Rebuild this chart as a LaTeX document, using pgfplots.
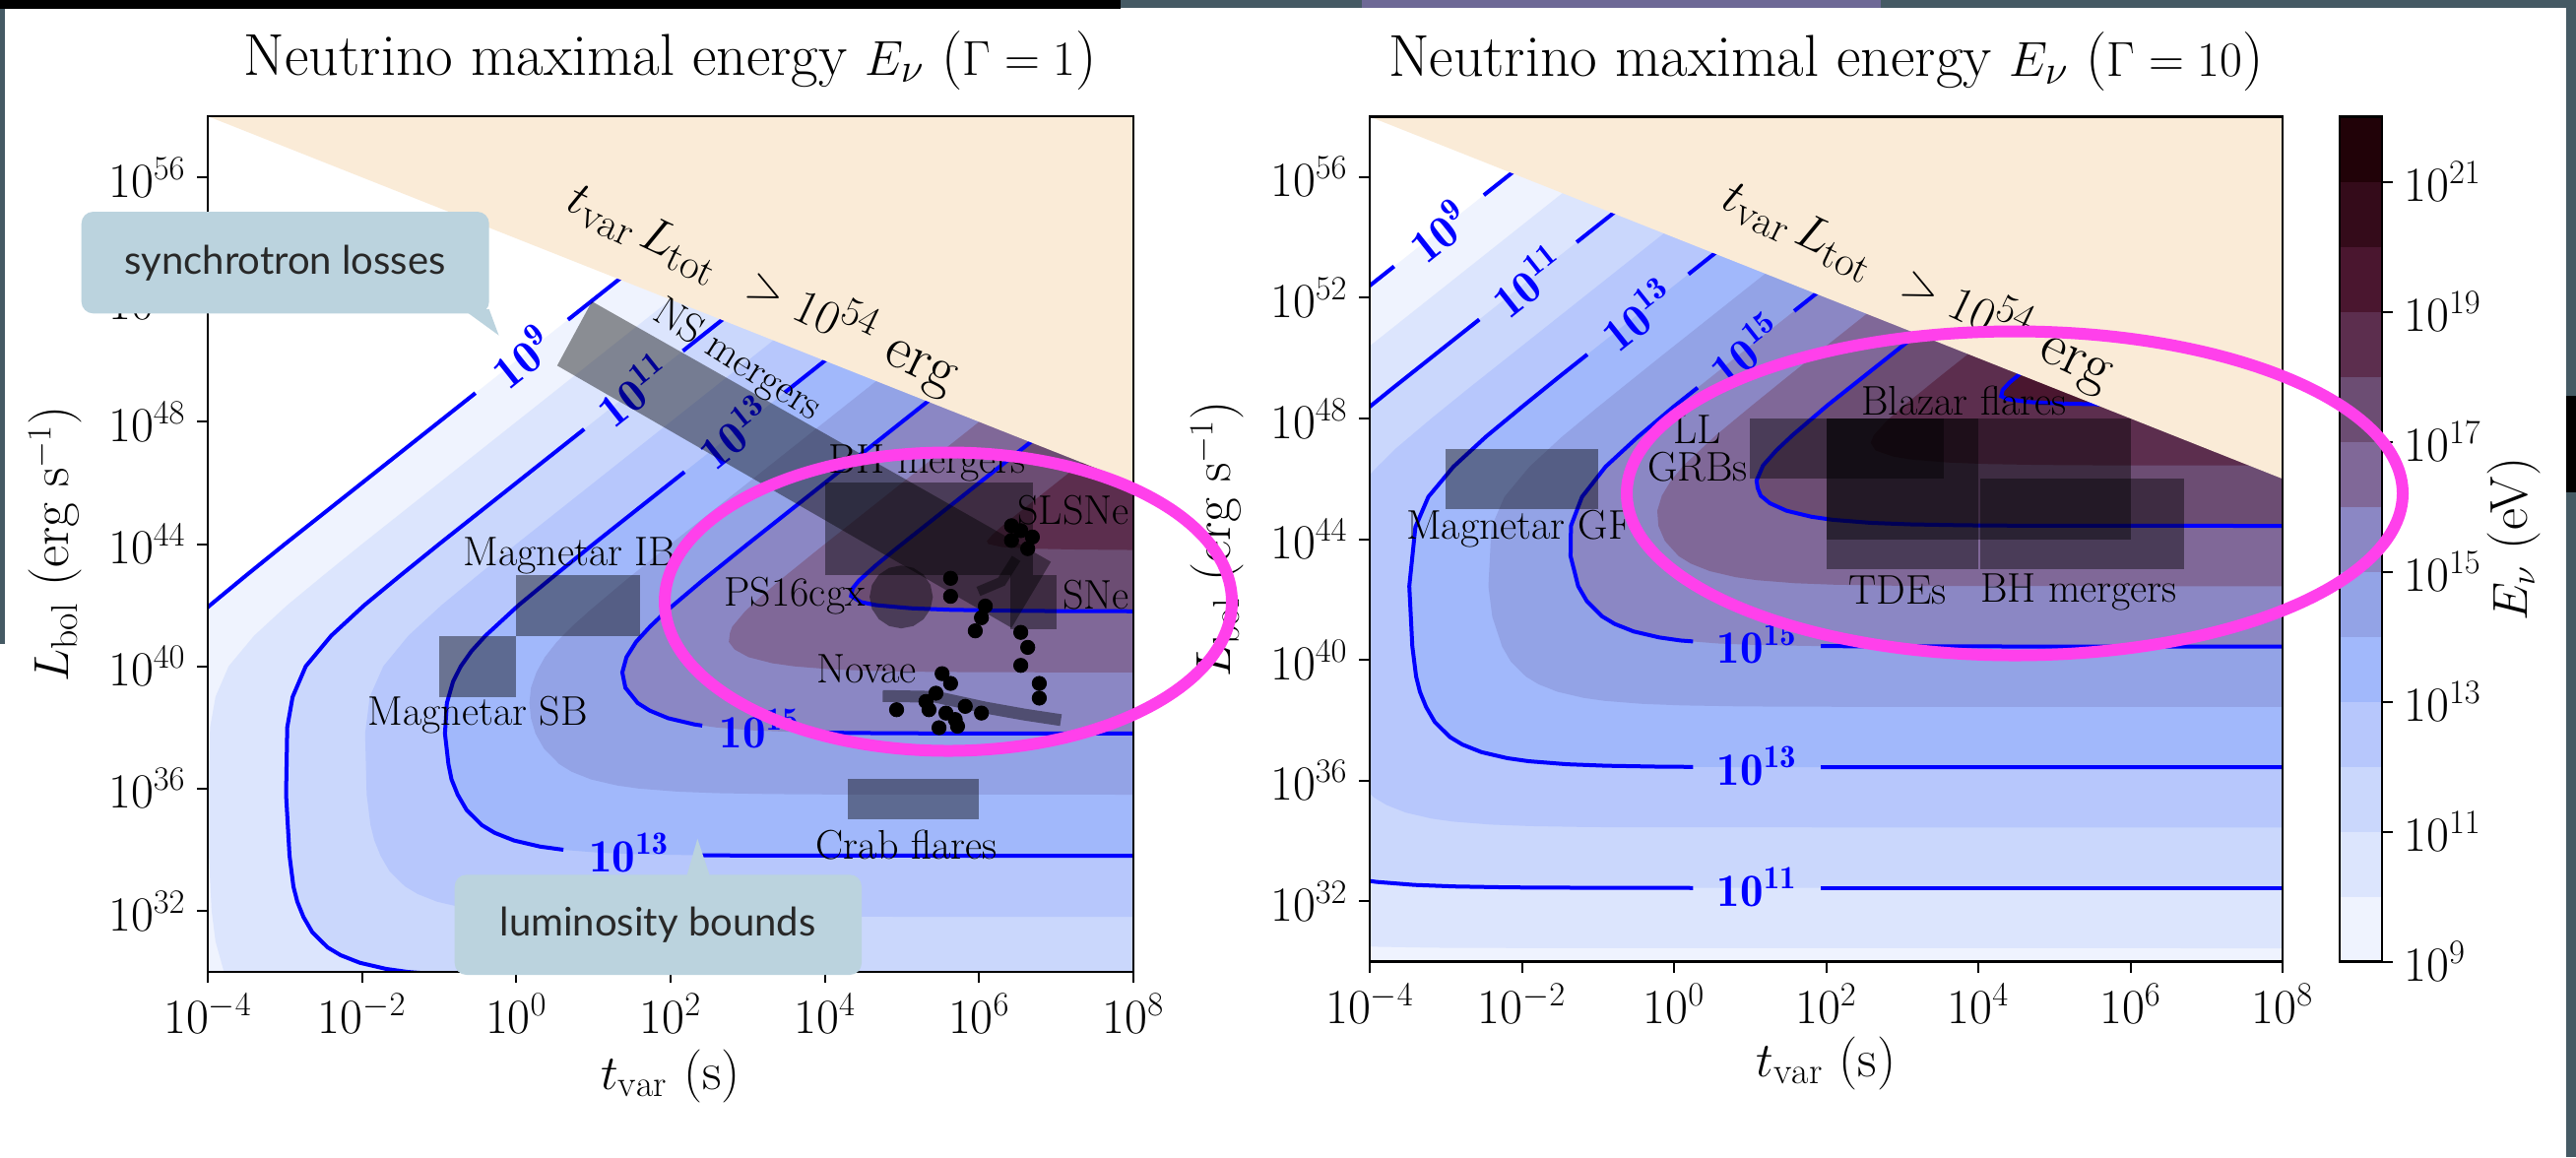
\documentclass[border=0pt]{standalone}
\usepackage{fontspec}
\usepackage{pgfplots}
\pgfplotsset{compat=1.18}
\newfontfamily\callfont{Lato}
\definecolor{c9}{RGB}{239,243,254}
\definecolor{c10}{RGB}{220,229,253}
\definecolor{c11}{RGB}{202,215,252}
\definecolor{c12}{RGB}{183,199,252}
\definecolor{c13}{RGB}{161,184,251}
\definecolor{c14}{RGB}{147,163,230}
\definecolor{c15}{RGB}{139,135,196}
\definecolor{c16}{RGB}{128,104,152}
\definecolor{c17}{RGB}{108,77,115}
\definecolor{c18}{RGB}{92,46,78}
\definecolor{c19}{RGB}{74,22,47}
\definecolor{c20}{RGB}{52,11,26}
\definecolor{c21}{RGB}{33,2,8}
\definecolor{beigecol}{RGB}{250,235,215}
\definecolor{mag}{RGB}{255,64,235}
\definecolor{callbg}{RGB}{187,211,222}
\definecolor{slatecol}{RGB}{69,90,100}
\definecolor{nebula}{RGB}{110,105,150}
\definecolor{cblue}{RGB}{0,0,255}
\definecolor{tgray}{RGB}{40,40,40}
\pgfplotsset{
  mypanel/.style={scale only axis, xmin=-4, xmax=8, ymin=30, ymax=58, axis on top,
    tick align=outside, tick pos=left, major tick length=5.5pt,
    tick style={black, line width=1pt}, axis line style={line width=1.25pt},
    xtick={-4,-2,0,2,4,6,8},
    xticklabels={$10^{-4}$,$10^{-2}$,$10^{0}$,$10^{2}$,$10^{4}$,$10^{6}$,$10^{8}$},
    ytick={32,36,40,44,48,52,56},
    yticklabels={$10^{32}$,$10^{36}$,$10^{40}$,$10^{44}$,$10^{48}$,$10^{52}$,$10^{56}$},
    ticklabel style={font=\fontsize{24.75}{29}\selectfont, inner sep=5.5pt},
    label style={font=\fontsize{27}{32}\selectfont},
    title style={font=\fontsize{30}{36}\selectfont}},
  mybnd/.style={draw=none, mark=none, forget plot},
  mycl/.style={draw=cblue, line width=2pt, mark=none, forget plot},
  mybox/.style={draw=none, fill=black, fill opacity=0.42, mark=none, forget plot},
}
\tikzset{myclab/.style={text=cblue, font=\fontsize{23.5}{28}\selectfont\bfseries, inner sep=0pt},
  mysrc/.style={font=\fontsize{21}{25}\selectfont, inner sep=0pt},
  mybeige/.style={font=\fontsize{30.5}{36}\selectfont, rotate=-25.5}}
\begin{document}
\begin{tikzpicture}
\useasboundingbox (0,0) rectangle (1308pt,-587.5pt);
\begin{scope}[x=0.5pt,y=-0.5pt]
\fill[white] (0,0) rectangle (2616,1175);
\fill[black] (0,0) rectangle (1138,9);
\fill[slatecol] (1138,0) rectangle (2616,8);
\fill[nebula] (1383,0) rectangle (1910,8);
\fill[slatecol] (0,9) rectangle (5,654);
\fill[slatecol] (2606,8) rectangle (2616,1175);
\fill[black] (2606,402) rectangle (2616,500);
\end{scope}

% ================= LEFT PANEL (Gamma = 1) =================
\begin{axis}[mypanel, at={(105.5pt,-493.5pt)}, anchor=south west, width=470pt, height=434.5pt,
  title={Neutrino maximal energy $E_\nu$ ($\Gamma=1$)},
  title style={at={(0.5,1.0345)}, anchor=base, yshift=0pt},
  xlabel={$t_{\mathrm{var}}$ (s)}, xlabel style={at={(0.5,-0.122)}, anchor=center},
  ylabel={$L_{\mathrm{bol}}$ (erg s$^{-1}$)}, ylabel style={at={(-0.1649,0.5)}, anchor=center}]
\addplot[mybnd, fill=c9] coordinates {(8.2,29) (-4.8,29) (-4.73,40) (-4.40,41) (-3.97,42) (-3.49,43) (-3,44) (-2,46) (-1,48) (0,50) (1,52) (2,54) (8.2,58.5)};
\addplot[mybnd, fill=c10] coordinates {(8.2,29) (-3.525,29) (-3.79,30) (-3.90,31) (-3.95,32) (-3.99,34) (-3.99,36) (-3.97,38) (-3.90,39) (-3.73,40) (-3.40,41) (-2.97,42) (-2.49,43) (-2,44) (-1,46) (0,48) (1,50) (2,52) (2.5,53) (8.2,58.5)};
\addplot[mybnd, fill=c11] coordinates {(8.2,29.8) (-0.39,29.85) (-0.91,29.9) (-1.41,30) (-1.69,30.1) (-2.03,30.3) (-2.28,30.55) (-2.445,30.8) (-2.645,31.3) (-2.76,31.8) (-2.84,32.3) (-2.89,32.8) (-2.94,33.8) (-2.985,35.8) (-2.97,38) (-2.90,39) (-2.73,40) (-2.40,41) (-1.97,42) (-1.49,43) (-1,44) (0,46) (1,48) (2,50) (3,52) (8.2,58.5)};
\addplot[mybnd, fill=c12] coordinates {(8.2,31.8) (1.82,31.81) (1.30,31.82) (0.61,31.85) (0.09,31.9) (-0.41,32) (-0.69,32.1) (-1.03,32.3) (-1.28,32.55) (-1.445,32.8) (-1.645,33.3) (-1.76,33.8) (-1.84,34.3) (-1.89,34.8) (-1.94,35.8) (-1.96,37.8) (-1.90,39) (-1.725,40) (-1.40,41) (-0.97,42) (-0.49,43) (0,44) (1,46) (2,48) (3,50) (3.5,51) (8.2,58.5)};
\addplot[mybnd, fill=c13] coordinates {(8.2,33.8) (3.35,33.805) (2.82,33.81) (2.30,33.82) (1.61,33.85) (1.09,33.9) (0.59,34) (0.31,34.1) (-0.03,34.3) (-0.28,34.55) (-0.445,34.8) (-0.645,35.3) (-0.76,35.8) (-0.84,36.3) (-0.88,36.8) (-0.925,37.8) (-0.90,38.8) (-0.82,39.5) (-0.72,40) (-0.58,40.5) (-0.40,41) (0.03,42) (0.51,43) (1,44) (2,46) (3,48) (4,50) (4.5,51) (8.2,58.5)};
\addplot[mybnd, fill=c14] coordinates {(8.2,35.8) (4.35,35.805) (3.82,35.81) (3.30,35.82) (2.61,35.85) (2.09,35.9) (1.59,36) (1.307,36.1) (0.967,36.3) (0.717,36.55) (0.557,36.8) (0.36,37.3) (0.248,37.8) (0.19,38.3) (0.17,38.8) (0.19,39.3) (0.26,39.8) (0.37,40.3) (0.525,40.8) (0.72,41.3) (0.94,41.8) (1.41,42.8) (2,44) (3,46) (4,48) (5,50) (8.2,58.5)};
\addplot[mybnd, fill=c15] coordinates {(8.2,37.8) (5.35,37.805) (4.82,37.81) (4.30,37.82) (3.61,37.85) (3.09,37.9) (2.59,38) (2.307,38.1) (1.97,38.3) (1.73,38.55) (1.573,38.8) (1.414,39.3) (1.374,39.8) (1.428,40.3) (1.553,40.8) (1.734,41.3) (1.942,41.8) (2.41,42.8) (3,44) (4,46) (5,48) (5.5,49) (8.2,58.5)};
\addplot[mybnd, fill=c16] coordinates {(8.2,39.8) (6.35,39.805) (5.82,39.81) (5.30,39.82) (4.61,39.85) (4.09,39.9) (3.60,40) (3.32,40.1) (3.01,40.3) (2.83,40.55) (2.755,40.8) (2.77,41.1) (2.80,41.3) (2.966,41.8) (3.18,42.3) (3.41,42.8) (3.90,43.8) (4.5,45) (5,46) (6,48) (6.5,49) (8.2,58.5)};
\addplot[mybnd, fill=c17] coordinates {(8.2,41.8) (7.35,41.805) (6.82,41.81) (6.30,41.82) (5.615,41.85) (5.11,41.9) (4.67,42) (4.47,42.1) (4.34,42.3) (4.36,42.55) (4.44,42.8) (4.66,43.3) (4.90,43.8) (5.5,45) (6,46) (6.5,47) (7,48) (8.2,58.5)};
\addplot[mybnd, fill=c18] coordinates {(8.2,43.8) (7.82,43.81) (7.31,43.82) (6.67,43.85) (6.30,43.9) (6.12,44) (6.10,44.1) (6.17,44.3) (6.28,44.55) (6.5,45) (7,46) (7.5,47) (8.2,58.5)};
% contour lines (split at the labels)
\addplot[mycl] coordinates {(-4.73,40) (-4.40,41) (-3.97,42) (-3.49,43) (-3,44) (-2,46) (-1,48) (-0.53,48.94)};
\addplot[mycl] coordinates {(0.67,51.34) (1,52) (2,54)};
\addplot[mycl] coordinates {(-0.39,29.85) (-0.91,29.9) (-1.41,30) (-1.69,30.1) (-2.03,30.3) (-2.28,30.55) (-2.445,30.8) (-2.645,31.3) (-2.76,31.8) (-2.84,32.3) (-2.89,32.8) (-2.94,33.8) (-2.985,35.8) (-2.97,38) (-2.90,39) (-2.73,40) (-2.40,41) (-1.97,42) (-1.49,43) (-1,44) (0,46) (0.88,47.76)};
\addplot[mycl] coordinates {(2.16,50.32) (3,52)};
\addplot[mycl] coordinates {(8.2,33.8) (3.35,33.805) (2.82,33.81) (2.31,33.82)};
\addplot[mycl] coordinates {(0.61,33.997) (0.31,34.1) (-0.03,34.3) (-0.28,34.55) (-0.445,34.8) (-0.645,35.3) (-0.76,35.8) (-0.84,36.3) (-0.88,36.8) (-0.925,37.8) (-0.90,38.8) (-0.82,39.5) (-0.72,40) (-0.58,40.5) (-0.40,41) (0.03,42) (0.51,43) (1,44) (2,46) (2.18,46.36)};
\addplot[mycl] coordinates {(3.48,48.96) (4,50) (4.5,51)};
\addplot[mycl] coordinates {(8.2,37.8) (5.35,37.805) (4.82,37.81) (4.30,37.82) (3.89,37.838)};
\addplot[mycl] coordinates {(2.41,38.06) (2.307,38.1) (1.97,38.3) (1.73,38.55) (1.573,38.8) (1.414,39.3) (1.374,39.8) (1.428,40.3) (1.553,40.8) (1.734,41.3) (1.942,41.8) (2.41,42.8) (3,44) (4,46) (5,48) (5.5,49)};
\addplot[mycl] coordinates {(8.2,41.8) (7.35,41.805) (6.82,41.81) (6.30,41.82) (5.615,41.85) (5.11,41.9) (4.67,42) (4.47,42.1) (4.34,42.3) (4.36,42.55) (4.44,42.8) (4.66,43.3) (4.90,43.8) (5.5,45) (6,46) (6.5,47) (7,48)};
\node[myclab, rotate=38.4] at (axis cs:0.07,50.14) {$\mathbf{10^{9}}$};
\node[myclab, rotate=38.4] at (axis cs:1.52,49.04) {$\mathbf{10^{11}}$};
\node[myclab, rotate=38.4] at (axis cs:2.83,47.66) {$\mathbf{10^{13}}$};
\node[myclab] at (axis cs:1.46,33.9) {$\mathbf{10^{13}}$};
\node[myclab] at (axis cs:3.15,37.95) {$\mathbf{10^{15}}$};
% forbidden region
\addplot[mybnd, fill=beigecol] coordinates {(-4.5,58.5) (8.5,45.5) (8.5,58.5)};
\node[mybeige] at (axis cs:3.2,52.42) {$t_{\mathrm{var}}\,L_{\mathrm{tot}}\;\,>10^{54}$ erg};
% sources
\addplot[mybox] coordinates {(0.98,51.94) (6.93,43.42) (6.42,41.26) (0.53,49.84)};
\addplot[mybox] coordinates {(0,41) (1.6,41) (1.6,43) (0,43)};
\addplot[mybox] coordinates {(-1,39) (0,39) (0,41) (-1,41)};
\addplot[mybox] coordinates {(4.3,35) (6.0,35) (6.0,36.3) (4.3,36.3)};
\addplot[mybox] coordinates {(4,43) (6.7,43) (6.7,46) (4,46)};
\addplot[mybox] coordinates {(6.4,41.2) (7,41.2) (7,43) (6.4,43)};
\addplot[mybox] coordinates {(5.40,42.27) (5.369,42.664) (5.28,42.998) (5.147,43.222) (4.99,43.30) (4.833,43.222) (4.70,42.998) (4.611,42.664) (4.58,42.27) (4.611,41.876) (4.70,41.542) (4.833,41.318) (4.99,41.24) (5.147,41.318) (5.28,41.542) (5.369,41.876)};
\addplot[draw=black, draw opacity=0.42, line width=6pt, mark=none, forget plot] coordinates {(4.75,39.03) (5.44,39.0) (6.08,38.65) (6.59,38.42) (7.06,38.24)};
\addplot[draw=black, draw opacity=0.42, line width=5pt, mark=none, forget plot] coordinates {(6.48,43.53) (6.29,42.77) (5.99,42.45)};
\addplot[only marks, mark=*, mark size=3.6pt, black, forget plot] coordinates {(6.42,44.6) (6.54,44.44) (6.69,44.23) (6.42,44.12) (6.63,43.85) (5.63,42.88) (5.63,42.29) (6.08,41.97) (6.03,41.59) (5.95,41.16) (6.54,41.11) (6.63,40.62) (6.54,40.03) (6.78,39.44) (6.78,38.96) (5.52,39.76) (5.63,39.44) (5.44,39.12) (5.31,38.85) (5.35,38.58) (4.93,38.58) (5.57,38.47) (5.69,38.26) (5.82,38.69) (6.03,38.47) (5.48,37.99) (5.72,38.04)};
\node[mysrc, rotate=-32.5] at (axis cs:2.86,49.97) {NS mergers};
\node[mysrc] at (axis cs:5.33,46.65) {BH mergers};
\node[mysrc, anchor=east] at (axis cs:7.95,45.1) {SLSNe};
\node[mysrc, anchor=east] at (axis cs:7.95,42.35) {SNe};
\node[mysrc] at (axis cs:3.61,42.3) {PS16cgx};
\node[mysrc] at (axis cs:4.54,39.9) {Novae};
\node[mysrc] at (axis cs:0.69,43.6) {Magnetar IB};
\node[mysrc] at (axis cs:-0.5,38.4) {Magnetar SB};
\node[mysrc] at (axis cs:5.06,34.16) {Crab flares};
\end{axis}

% ================= RIGHT PANEL (Gamma = 10) =================
\begin{axis}[mypanel, at={(695.5pt,-488.25pt)}, anchor=south west, width=463.5pt, height=429pt,
  title={Neutrino maximal energy $E_\nu$ ($\Gamma=10$)},
  title style={at={(0.5,1.0333)}, anchor=base, yshift=0pt},
  xlabel={$t_{\mathrm{var}}$ (s)}, xlabel style={at={(0.5,-0.1206)}, anchor=center},
  ylabel={$L_{\mathrm{bol}}$ (erg s$^{-1}$)}, ylabel style={at={(-0.1672,0.5)}, anchor=center}]
\addplot[mybnd, fill=c9] coordinates {(8.2,29) (-4.5,29) (-4.5,51.4) (-3.7,53) (-3.2,54) (-2.7,55) (-2.2,56) (-1.7,57) (8.2,58.5)};
\addplot[mybnd, fill=c10] coordinates {(8.2,30.44) (-2.68,30.45) (-3.2,30.46) (-3.89,30.49) (-4.41,30.54) (-4.5,30.6) (-4.5,49.6) (-4.2,50) (-3.7,51) (-3.2,52) (-2.7,53) (-2.2,54) (-1.7,55) (-1.2,56) (8.2,58.5)};
\addplot[mybnd, fill=c11] coordinates {(8.2,32.44) (-1.68,32.45) (-2.2,32.46) (-2.89,32.49) (-3.41,32.54) (-3.91,32.64) (-4.19,32.74) (-4.5,32.9) (-4.5,47.4) (-4.19,48) (-3.70,49) (-3.2,50) (-2.7,51) (-2.2,52) (-1.7,53) (-1.2,54) (-0.7,55) (-0.2,56) (8.2,58.5)};
\addplot[mybnd, fill=c12] coordinates {(8.2,34.44) (-0.68,34.45) (-1.2,34.46) (-1.89,34.49) (-2.41,34.54) (-2.91,34.64) (-3.19,34.74) (-3.53,34.94) (-3.78,35.19) (-3.945,35.44) (-4.01,35.6) (-4.5,36.5) (-4.5,45.5) (-4.05,46) (-3.90,46.4) (-3.66,47) (-3.19,48) (-2.70,49) (-2.2,50) (-1.7,51) (-1.2,52) (-0.7,53) (-0.2,54) (0.3,55) (8.2,58.5)};
\addplot[mybnd, fill=c13] coordinates {(8.2,36.44) (0.85,36.445) (0.32,36.45) (-0.2,36.46) (-0.89,36.49) (-1.41,36.54) (-1.91,36.64) (-2.19,36.74) (-2.53,36.94) (-2.78,37.19) (-2.945,37.44) (-3.145,37.94) (-3.26,38.44) (-3.34,38.94) (-3.39,39.44) (-3.44,40.44) (-3.48,42.44) (-3.40,44.4) (-3.23,45.4) (-2.90,46.4) (-2.47,47.4) (-1.99,48.4) (-1.5,49.4) (-1.0,50.4) (-0.5,51.4) (0,52.4) (0.5,53.4) (1.0,54.4) (8.2,58.5)};
\addplot[mybnd, fill=c14] coordinates {(8.2,38.44) (1.85,38.445) (1.32,38.45) (0.80,38.46) (0.11,38.49) (-0.41,38.54) (-0.91,38.64) (-1.19,38.74) (-1.53,38.94) (-1.78,39.19) (-1.945,39.44) (-2.145,39.94) (-2.26,40.44) (-2.39,41.44) (-2.44,42.44) (-2.40,44.4) (-2.23,45.4) (-1.90,46.4) (-1.47,47.4) (-0.99,48.4) (-0.2,50) (0.3,51) (0.8,52) (1.3,53) (1.8,54) (8.2,58.5)};
\addplot[mybnd, fill=c15] coordinates {(8.2,40.44) (2.85,40.445) (2.32,40.45) (1.80,40.46) (1.11,40.49) (0.59,40.54) (0.09,40.64) (-0.19,40.74) (-0.53,40.94) (-0.78,41.19) (-0.945,41.44) (-1.145,41.94) (-1.26,42.44) (-1.36,43.44) (-1.355,44.44) (-1.21,45.4) (-0.90,46.4) (-0.47,47.4) (0,48.4) (0.5,49.4) (1.0,50.4) (1.5,51.4) (2.0,52.4) (8.2,58.5)};
\addplot[mybnd, fill=c16] coordinates {(8.2,42.44) (3.85,42.445) (3.32,42.45) (2.80,42.46) (2.11,42.49) (1.59,42.54) (1.09,42.64) (0.81,42.74) (0.47,42.94) (0.22,43.19) (0.06,43.44) (-0.12,43.94) (-0.205,44.44) (-0.22,44.94) (-0.16,45.44) (-0.04,45.94) (0.125,46.44) (0.55,47.44) (1.03,48.44) (1.5,49.4) (2.0,50.4) (2.5,51.4) (3.0,52.4) (8.2,58.5)};
\addplot[mybnd, fill=c17] coordinates {(8.2,44.44) (4.85,44.445) (4.32,44.45) (3.80,44.46) (3.11,44.49) (2.59,44.54) (2.09,44.64) (1.81,44.74) (1.48,44.94) (1.26,45.19) (1.14,45.44) (1.10,45.69) (1.085,45.94) (1.17,46.44) (1.345,46.94) (1.556,47.44) (2.02,48.44) (2.5,49.4) (3.0,50.4) (3.5,51.4) (8.2,58.5)};
\addplot[mybnd, fill=c18] coordinates {(8.2,46.44) (5.85,46.445) (5.32,46.45) (4.80,46.46) (4.11,46.49) (3.60,46.54) (3.12,46.64) (2.88,46.74) (2.65,46.94) (2.585,47.19) (2.625,47.44) (2.805,47.94) (3.03,48.44) (3.5,49.4) (4.0,50.4) (8.2,58.5)};
\addplot[mybnd, fill=c19] coordinates {(8.2,48.44) (6.85,48.445) (6.32,48.45) (5.80,48.46) (5.134,48.49) (4.68,48.54) (4.38,48.64) (4.30,48.74) (4.32,48.94) (4.41,49.19) (4.53,49.44) (4.65,49.7) (8.2,58.5)};
% contour lines (split at the labels)
\addplot[mycl] coordinates {(-4.5,51.4) (-3.68,53.04)};
\addplot[mycl] coordinates {(-2.5,55.4) (-2.16,56.08) (-1.7,57)};
\addplot[mycl] coordinates {(8.2,32.44) (1.93,32.44)};
\addplot[mycl] coordinates {(0.25,32.44) (-1.68,32.45) (-2.2,32.46) (-2.89,32.49) (-3.41,32.54) (-3.91,32.64) (-4.19,32.74)};
\addplot[mycl] coordinates {(-4.19,48) (-3.70,49) (-2.56,51.28)};
\addplot[mycl] coordinates {(-1.28,53.84) (-0.7,55)};
\addplot[mycl] coordinates {(8.2,36.44) (1.93,36.442)};
\addplot[mycl] coordinates {(0.25,36.452) (-0.2,36.46) (-0.89,36.49) (-1.41,36.54) (-1.91,36.64) (-2.19,36.74) (-2.53,36.94) (-2.78,37.19) (-2.945,37.44) (-3.145,37.94) (-3.26,38.44) (-3.34,38.94) (-3.39,39.44) (-3.44,40.44) (-3.48,42.44) (-3.40,44.4) (-3.23,45.4) (-2.90,46.4) (-2.47,47.4) (-1.99,48.4) (-1.5,49.4) (-1.14,50.12)};
\addplot[mycl] coordinates {(0.19,52.78) (0.5,53.4) (1.0,54.4)};
\addplot[mycl] coordinates {(8.2,40.44) (2.85,40.445) (2.32,40.45) (1.93,40.457)};
\addplot[mycl] coordinates {(0.25,40.61) (0.09,40.64) (-0.19,40.74) (-0.53,40.94) (-0.78,41.19) (-0.945,41.44) (-1.145,41.94) (-1.26,42.44) (-1.36,43.44) (-1.355,44.44) (-1.21,45.4) (-0.90,46.4) (-0.47,47.4) (0,48.4) (0.31,49.02)};
\addplot[mycl] coordinates {(1.58,51.56) (2.0,52.4)};
\addplot[mycl] coordinates {(8.2,44.44) (4.85,44.445) (4.32,44.45) (3.80,44.46) (3.11,44.49) (2.59,44.54) (2.09,44.64) (1.81,44.74) (1.48,44.94) (1.26,45.19) (1.14,45.44) (1.10,45.69) (1.085,45.94) (1.17,46.44) (1.345,46.94) (1.556,47.44) (2.02,48.44) (2.5,49.4) (3.0,50.4) (3.5,51.4)};
\addplot[mycl] coordinates {(6.32,48.45) (5.80,48.46) (5.134,48.49) (4.68,48.54) (4.38,48.64) (4.30,48.74) (4.32,48.94) (4.41,49.19) (4.53,49.44) (4.65,49.7)};
\node[myclab, rotate=38.4] at (axis cs:-3.09,54.22) {$\mathbf{10^{9}}$};
\node[myclab, rotate=38.4] at (axis cs:-1.92,52.56) {$\mathbf{10^{11}}$};
\node[myclab, rotate=38.4] at (axis cs:-0.475,51.45) {$\mathbf{10^{13}}$};
\node[myclab, rotate=38.4] at (axis cs:0.945,50.29) {$\mathbf{10^{15}}$};
\node[myclab] at (axis cs:1.09,40.52) {$\mathbf{10^{15}}$};
\node[myclab] at (axis cs:1.09,36.47) {$\mathbf{10^{13}}$};
\node[myclab] at (axis cs:1.09,32.46) {$\mathbf{10^{11}}$};
\addplot[mybnd, fill=beigecol] coordinates {(-4.5,58.5) (8.5,45.5) (8.5,58.5)};
\node[mybeige] at (axis cs:3.21,52.46) {$t_{\mathrm{var}}\,L_{\mathrm{tot}}\;\,>10^{54}$ erg};
\addplot[mybox] coordinates {(-3,45) (-1,45) (-1,47) (-3,47)};
\addplot[mybox] coordinates {(1,46) (3.55,46) (3.55,48) (1,48)};
\addplot[mybox] coordinates {(2,44) (6,44) (6,48) (2,48)};
\addplot[mybox] coordinates {(2,43) (4,43) (4,48) (2,48)};
\addplot[mybox] coordinates {(4.03,43) (6.7,43) (6.7,46) (4.03,46)};
\node[mysrc] at (axis cs:-2.03,44.33) {Magnetar GF};
\node[mysrc] at (axis cs:0.31,47.64) {LL};
\node[mysrc] at (axis cs:0.31,46.4) {GRBs};
\node[mysrc] at (axis cs:3.81,48.6) {Blazar flares};
\node[mysrc] at (axis cs:2.94,42.3) {TDEs};
\node[mysrc] at (axis cs:5.32,42.25) {BH mergers};
\end{axis}

% ================= COLORBAR =================
\begin{axis}[scale only axis, at={(1188pt,-488.25pt)}, anchor=south west, width=21.5pt, height=429pt,
  xmin=0, xmax=1, ymin=9, ymax=22, xtick=\empty, axis on top,
  ytick={9,11,13,15,17,19,21},
  yticklabels={$10^{9}$,$10^{11}$,$10^{13}$,$10^{15}$,$10^{17}$,$10^{19}$,$10^{21}$},
  ytick pos=right, yticklabel pos=right, tick align=outside, major tick length=5.5pt,
  tick style={black, line width=1pt}, axis line style={line width=1.25pt},
  ticklabel style={font=\fontsize{24.75}{29}\selectfont, inner sep=5.5pt},
  ylabel={$E_\nu$ (eV)}, label style={font=\fontsize{27}{32}\selectfont},
  ylabel style={at={(4.116,0.5)}, anchor=center}]
\addplot[mybnd, fill=c9] coordinates {(0,9) (1,9) (1,10) (0,10)};
\addplot[mybnd, fill=c10] coordinates {(0,10) (1,10) (1,11) (0,11)};
\addplot[mybnd, fill=c11] coordinates {(0,11) (1,11) (1,12) (0,12)};
\addplot[mybnd, fill=c12] coordinates {(0,12) (1,12) (1,13) (0,13)};
\addplot[mybnd, fill=c13] coordinates {(0,13) (1,13) (1,14) (0,14)};
\addplot[mybnd, fill=c14] coordinates {(0,14) (1,14) (1,15) (0,15)};
\addplot[mybnd, fill=c15] coordinates {(0,15) (1,15) (1,16) (0,16)};
\addplot[mybnd, fill=c16] coordinates {(0,16) (1,16) (1,17) (0,17)};
\addplot[mybnd, fill=c17] coordinates {(0,17) (1,17) (1,18) (0,18)};
\addplot[mybnd, fill=c18] coordinates {(0,18) (1,18) (1,19) (0,19)};
\addplot[mybnd, fill=c19] coordinates {(0,19) (1,19) (1,20) (0,20)};
\addplot[mybnd, fill=c20] coordinates {(0,20) (1,20) (1,21) (0,21)};
\addplot[mybnd, fill=c21] coordinates {(0,21) (1,21) (1,22) (0,22)};
\end{axis}

% ================= ANNOTATIONS =================
\begin{scope}[x=0.5pt,y=-0.5pt]
\draw[mag, line width=6pt] (963,611) ellipse [x radius=144pt, y radius=75.75pt];
\draw[mag, line width=6pt] (2046,501) ellipse [x radius=197pt, y radius=82.25pt];
\fill[callbg, rounded corners=6pt] (82.7,215) rectangle (496.7,318.3);
\fill[callbg] (470,314) -- (496.7,314) -- (506.5,340.5) -- cycle;
\node[font=\callfont\fontsize{20}{24}\selectfont, text=tgray] at (289.7,266.7) {synchrotron losses};
\fill[callbg, rounded corners=6pt] (461.7,888.3) rectangle (875,990);
\fill[callbg] (696.7,892) -- (721.7,892) -- (708.3,851.7) -- cycle;
\node[font=\callfont\fontsize{20}{24}\selectfont, text=tgray] at (668,939) {luminosity bounds};
\end{scope}
\end{tikzpicture}
\end{document}
